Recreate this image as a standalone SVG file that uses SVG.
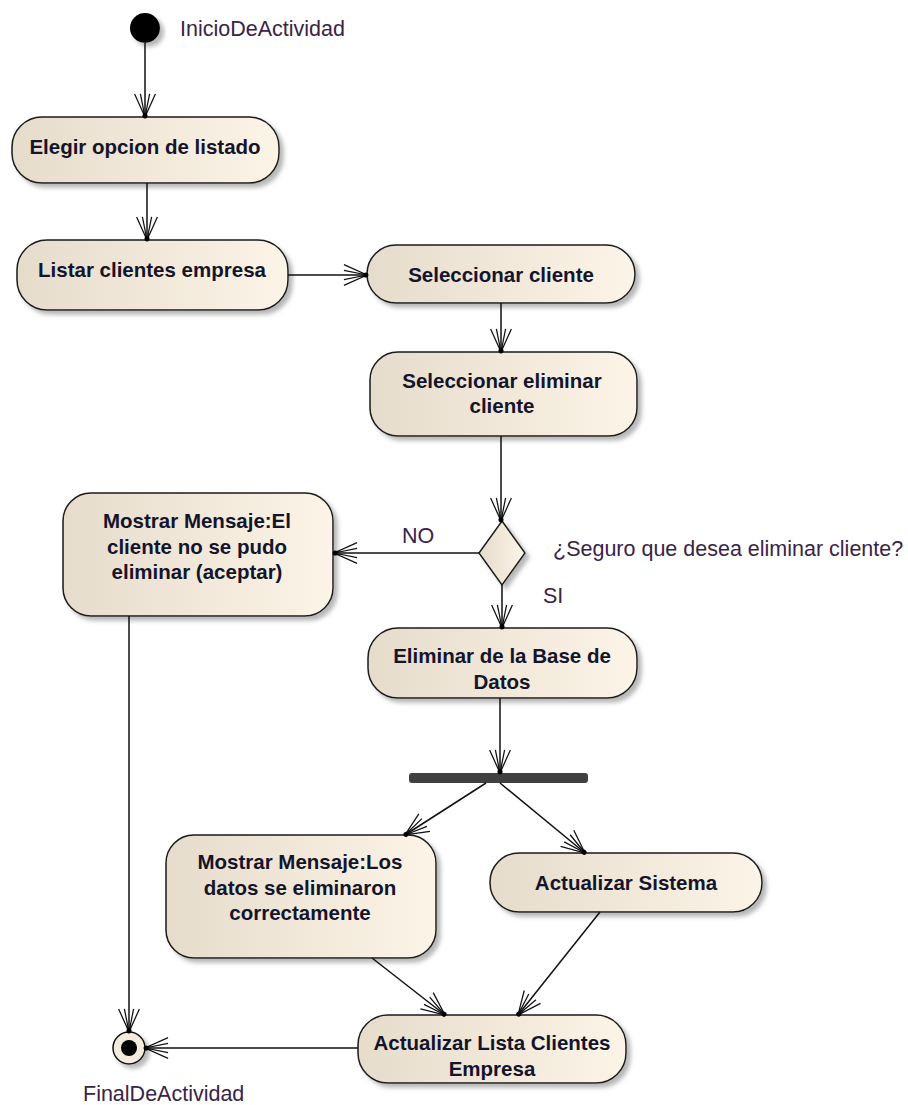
<svg xmlns="http://www.w3.org/2000/svg" width="908" height="1105" viewBox="0 0 908 1105">
<style>
.node rect,.node polygon{fill:url(#g);stroke:#1a1a1a;stroke-width:1.5;filter:url(#sh)}
.t{font-family:"Liberation Sans",Arial,sans-serif;font-weight:bold;font-size:20.5px;fill:#14142a;text-anchor:middle}
.lb{font-family:"Liberation Sans",Arial,sans-serif;font-size:21.5px;fill:#3a2348}
.c line,.c polyline{stroke:#111;stroke-width:1.5;fill:none;marker-end:url(#ah)}
</style>
<defs>
<linearGradient id="g" x1="0" y1="0" x2="1" y2="0"><stop offset="0" stop-color="#e6dccc"/><stop offset="1" stop-color="#fcf4e7"/></linearGradient>
<filter id="sh" x="-10%" y="-10%" width="130%" height="140%"><feDropShadow dx="4" dy="4" stdDeviation="2" flood-color="#888" flood-opacity="0.6"/></filter>
<marker id="ah" markerUnits="userSpaceOnUse" markerWidth="30" markerHeight="30" refX="0" refY="0" viewBox="-22 -12 26 24" orient="auto" overflow="visible">
<path d="M-20,-9 L0,0 L-20,9 M-20,-4 L0,0 L-20,4" fill="none" stroke="#111" stroke-width="1.1"/>
<circle cx="-1" cy="0" r="2.2" fill="#000"/>
</marker>
</defs>
<g id="start"><circle cx="145" cy="28" r="15" fill="#000" filter="url(#sh)"/><text class="lb" x="180" y="36">InicioDeActividad</text></g>
<g id="n1" class="node"><rect x="12" y="117" width="267" height="66" rx="30"/><text class="t" x="145" y="154">Elegir opcion de listado</text></g>
<g id="n2" class="node"><rect x="17" y="240" width="271" height="70" rx="30"/><text class="t" x="152" y="277">Listar clientes empresa</text></g>
<g id="n3" class="node"><rect x="367" y="245" width="268" height="58" rx="29"/><text class="t" x="501" y="282">Seleccionar cliente</text></g>
<g id="n4" class="node"><rect x="370" y="352" width="267" height="84" rx="28"/><text class="t" x="502" y="388">Seleccionar eliminar</text><text class="t" x="502" y="413">cliente</text></g>
<g id="d1" class="node"><polygon points="502,521 525,553 502,585 479,553"/><text class="lb" x="553" y="556">¿Seguro que desea eliminar cliente?</text></g>
<g id="n5" class="node"><rect x="63" y="493" width="270" height="123" rx="28"/><text class="t" x="197" y="528">Mostrar Mensaje:El</text><text class="t" x="197" y="554">cliente no se pudo</text><text class="t" x="197" y="579">eliminar (aceptar)</text></g>
<g id="n6" class="node"><rect x="368" y="628" width="269" height="70" rx="30"/><text class="t" x="502" y="663">Eliminar de la Base de</text><text class="t" x="502" y="689">Datos</text></g>
<g id="fork"><rect x="409" y="773" width="179" height="10" rx="3" fill="#404040"/></g>
<g id="n7" class="node"><rect x="166" y="835" width="270" height="123" rx="28"/><text class="t" x="300" y="869">Mostrar Mensaje:Los</text><text class="t" x="300" y="895">datos se eliminaron</text><text class="t" x="300" y="920">correctamente</text></g>
<g id="n8" class="node"><rect x="490" y="853" width="272" height="59" rx="29"/><text class="t" x="626" y="890">Actualizar Sistema</text></g>
<g id="n9" class="node"><rect x="358" y="1015" width="268" height="68" rx="30"/><text class="t" x="492" y="1050">Actualizar Lista Clientes</text><text class="t" x="492" y="1076">Empresa</text></g>
<g id="end"><circle cx="129" cy="1048" r="16" fill="#f3ebde" stroke="#111" stroke-width="1.5" filter="url(#sh)"/><circle cx="129" cy="1048" r="8" fill="#000"/><text class="lb" x="83" y="1101">FinalDeActividad</text></g>
<g id="labels"><text class="lb" x="402" y="543">NO</text><text class="lb" x="543" y="603">SI</text></g>
<g id="connectors" class="c">
<line x1="145" y1="43" x2="145" y2="117"/>
<line x1="147" y1="183" x2="147" y2="240"/>
<line x1="288" y1="275" x2="367" y2="275"/>
<line x1="501" y1="303" x2="501" y2="352"/>
<line x1="501" y1="436" x2="501" y2="521"/>
<line x1="479" y1="553" x2="334" y2="553"/>
<line x1="502" y1="585" x2="502" y2="628"/>
<line x1="500" y1="698" x2="500" y2="773"/>
<line x1="486" y1="783" x2="405" y2="835"/>
<line x1="500" y1="783" x2="585" y2="853"/>
<line x1="372" y1="958" x2="445" y2="1015"/>
<line x1="600" y1="912" x2="518" y2="1015"/>
<line x1="129" y1="616" x2="129" y2="1032"/>
<line x1="358" y1="1048" x2="145" y2="1048"/>
</g>
</svg>
